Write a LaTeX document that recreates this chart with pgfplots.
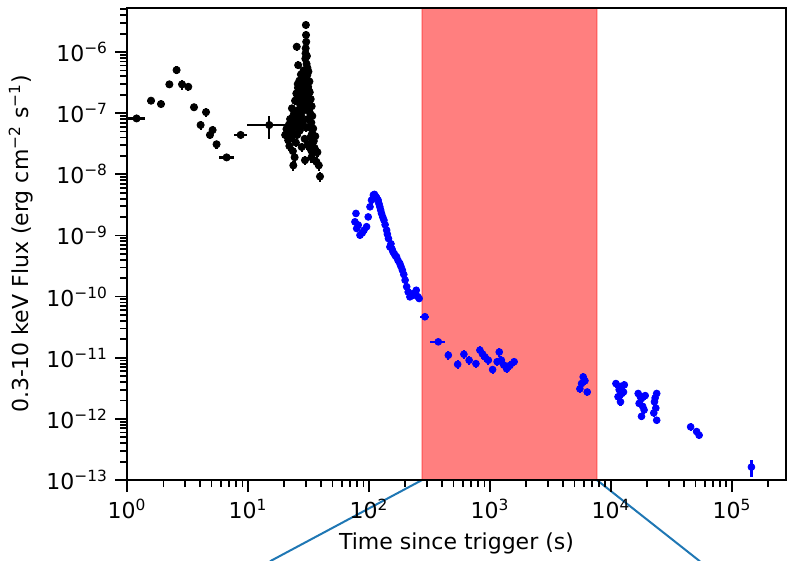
\documentclass[border=0pt]{standalone}
\usepackage{fontspec}
\setmainfont{DejaVu Sans}
\usepackage{pgfplots}
\usepackage{pgfplotstable}
\pgfplotsset{compat=1.18}

\definecolor{mplblue}{HTML}{1F77B4}

% early prompt emission (black): x  y  rel. x err  rel. y err
\pgfplotstableread{
x      y        ex    ey
1.2    8.2e-8   0.18  0.12
1.58   1.6e-7   0.07  0.12
1.91   1.41e-7  0.07  0.15
2.24   2.96e-7  0.06  0.12
2.57   5.07e-7  0.05  0.15
2.85   2.96e-7  0.05  0.18
3.21   2.7e-7   0.05  0.15
3.58   1.25e-7  0.04  0.12
4.06   6.4e-8   0.04  0.18
4.5    1.04e-7  0.04  0.18
4.85   4.4e-8   0.04  0.15
5.1    5.3e-8   0.04  0.15
5.5    3.1e-8   0.04  0.15
6.66   1.89e-8  0.14  0.10
8.7    4.4e-8   0.12  0.10
15.0   6.4e-8   0.34  0.42
20.3   4.4e-8   0.01  0.15
20.8   5.5e-8   0.01  0.15
21.1   4.7e-8   0.01  0.15
21.4   5.0e-8   0.01  0.15
21.5   3.6e-8   0.01  0.15
21.8   6.5e-8   0.01  0.15
22.0   2.9e-8   0.01  0.18
22.1   6.0e-8   0.01  0.15
22.3   8.0e-8   0.01  0.15
22.6   5.0e-8   0.01  0.15
22.9   3.9e-8   0.01  0.15
23.1   1.2e-7   0.01  0.15
23.3   6.8e-8   0.01  0.15
23.4   4.7e-8   0.01  0.15
23.5   2.4e-8   0.01  0.18
23.7   1.4e-8   0.01  0.20
23.9   9.5e-8   0.01  0.15
24.1   5.8e-8   0.01  0.15
24.2   1.05e-7  0.01  0.15
24.3   1.9e-8   0.01  0.18
24.5   1.6e-7   0.01  0.15
24.7   7.2e-8   0.01  0.15
24.9   3.3e-8   0.01  0.15
25.0   9.0e-8   0.01  0.15
25.1   2.1e-7   0.01  0.15
25.3   1.22e-6  0.01  0.15
25.4   1.7e-7   0.01  0.15
25.5   4.4e-8   0.01  0.15
25.7   1.1e-7   0.01  0.15
25.8   3.0e-7   0.01  0.15
25.9   2.6e-7   0.01  0.15
26.0   6.1e-7   0.01  0.15
26.1   1.9e-7   0.01  0.15
26.2   8.5e-8   0.01  0.15
26.3   7.6e-8   0.01  0.15
26.4   1.5e-7   0.01  0.15
26.5   2.4e-7   0.01  0.15
26.6   3.4e-7   0.01  0.15
26.8   5.2e-8   0.01  0.15
26.9   1.05e-7  0.01  0.15
27.0   2.2e-7   0.01  0.15
27.1   6.2e-8   0.01  0.15
27.2   1.3e-7   0.01  0.15
27.3   2.9e-7   0.01  0.15
27.4   4.3e-7   0.01  0.15
27.6   9.0e-8   0.01  0.15
27.7   1.55e-7  0.01  0.15
27.8   2.8e-8   0.01  0.18
28.0   1.8e-7   0.01  0.15
28.1   3.7e-7   0.01  0.15
28.2   3.1e-7   0.01  0.15
28.3   7.5e-8   0.01  0.15
28.4   6.6e-8   0.01  0.15
28.5   2.6e-7   0.01  0.15
28.6   1.1e-7   0.01  0.15
28.8   5.0e-7   0.01  0.15
28.9   1.4e-7   0.01  0.15
29.0   2.4e-7   0.01  0.15
29.2   1.6e-7   0.01  0.15
29.3   4.1e-7   0.01  0.15
29.4   3.8e-8   0.01  0.15
29.6   1.7e-8   0.01  0.18
29.7   2.9e-7   0.01  0.15
29.8   7.8e-7   0.01  0.15
29.9   9.5e-7   0.01  0.15
30.0   1.15e-6  0.01  0.15
30.1   2.77e-6  0.01  0.15
30.2   1.9e-6   0.01  0.15
30.3   1.47e-6  0.01  0.15
30.3   5.8e-8   0.01  0.15
30.4   2.0e-7   0.01  0.15
30.5   6.4e-7   0.01  0.15
30.6   3.6e-7   0.01  0.15
30.7   8.6e-7   0.01  0.15
30.8   1.2e-7   0.01  0.15
30.9   4.2e-7   0.01  0.15
31.0   5.5e-7   0.01  0.15
31.1   3.0e-8   0.01  0.18
31.2   8.0e-8   0.01  0.15
31.3   1.9e-7   0.01  0.15
31.4   2.7e-7   0.01  0.15
31.6   4.8e-7   0.01  0.15
31.7   2.4e-7   0.01  0.15
31.8   1.5e-7   0.01  0.15
32.0   6.0e-8   0.01  0.15
32.2   3.3e-7   0.01  0.15
32.4   2.2e-7   0.01  0.15
32.5   2.9e-8   0.01  0.18
32.6   1.0e-7   0.01  0.15
32.8   4.0e-8   0.01  0.15
33.0   1.7e-7   0.01  0.15
33.2   2.5e-8   0.01  0.18
33.4   7.0e-8   0.01  0.15
33.5   1.9e-8   0.01  0.18
33.6   1.3e-7   0.01  0.15
33.8   4.6e-8   0.01  0.15
34.0   9.0e-8   0.01  0.15
34.2   2.2e-8   0.01  0.18
34.6   5.6e-8   0.01  0.15
35.0   3.5e-8   0.01  0.15
35.5   2.7e-8   0.01  0.18
36.0   4.2e-8   0.01  0.15
36.8   1.6e-8   0.01  0.18
37.5   2.3e-8   0.01  0.18
38.5   1.4e-8   0.01  0.18
39.4   9.2e-9   0.01  0.18
}\blackdata

% XRT (blue)
\pgfplotstableread{
x       y         ex    ey
76.6    1.67e-9   0.01  0.12
78.1    2.29e-9   0.01  0.12
79.2    1.3e-9    0.01  0.12
81.5    1.48e-9   0.01  0.12
84.3    1.01e-9   0.01  0.12
88      1.1e-9    0.01  0.12
91      1.22e-9   0.01  0.12
95.6    1.39e-9   0.01  0.12
98.6    2.01e-9   0.01  0.12
102     2.94e-9   0.01  0.12
105     3.78e-9   0.01  0.12
108.7   4.57e-9   0.01  0.12
111     4.7e-9    0.01  0.12
114     4.3e-9    0.01  0.12
116     4.1e-9    0.01  0.12
119     3.78e-9   0.01  0.12
121     3.3e-9    0.01  0.12
123     2.94e-9   0.01  0.12
125     2.6e-9    0.01  0.12
127     2.29e-9   0.01  0.12
130     2.0e-9    0.01  0.12
133     1.78e-9   0.01  0.12
136     1.5e-9    0.01  0.12
140     1.22e-9   0.01  0.12
142     1.05e-9   0.01  0.12
145     8.9e-10   0.01  0.12
149     6.5e-10   0.01  0.12
152     7.3e-10   0.01  0.12
155     6.0e-10   0.01  0.12
158     5.4e-10   0.01  0.12
162     5.0e-10   0.01  0.12
166     4.6e-10   0.01  0.12
169     4.47e-10  0.01  0.12
174     3.9e-10   0.01  0.12
180     3.48e-10  0.01  0.12
184     3.1e-10   0.01  0.12
189     2.7e-10   0.01  0.12
194     2.3e-10   0.01  0.12
199     1.86e-10  0.01  0.12
205     1.45e-10  0.01  0.12
211     1.19e-10  0.01  0.12
218     9.9e-11   0.01  0.12
225     1.1e-10   0.01  0.12
232     1.05e-10  0.01  0.12
239     1.15e-10  0.01  0.12
246     1.27e-10  0.01  0.12
253     1.0e-10   0.01  0.12
260     9.3e-11   0.01  0.12
290     4.68e-11  0.09  0.12
374     1.82e-11  0.14  0.12
453     1.1e-11   0.04  0.16
541     7.8e-12   0.04  0.16
609     1.14e-11  0.04  0.16
673     9.1e-12   0.04  0.16
766     8.0e-12   0.04  0.16
826     1.33e-11  0.03  0.16
868     1.15e-11  0.03  0.16
909     1.03e-11  0.03  0.16
970     9.1e-12   0.03  0.16
1052    6.4e-12   0.03  0.16
1147    8.6e-12   0.03  0.16
1194    1.24e-11  0.03  0.16
1243    9.1e-12   0.03  0.16
1300    7.6e-12   0.03  0.16
1374    6.6e-12   0.03  0.16
1466    7.5e-12   0.03  0.16
1585    8.6e-12   0.03  0.16
5540    3.1e-12   0.01  0.14
5720    3.78e-12  0.01  0.14
5900    4.86e-12  0.01  0.14
6100    4.2e-12   0.01  0.14
6370    2.75e-12  0.01  0.14
11000   3.78e-12  0.01  0.14
11450   2.3e-12   0.01  0.14
11700   3.0e-12   0.01  0.14
11900   3.4e-12   0.01  0.14
12000   1.9e-12   0.01  0.14
12300   2.6e-12   0.01  0.14
12700   2.75e-12  0.01  0.14
12900   3.6e-12   0.01  0.14
16800   2.6e-12   0.01  0.14
17100   1.79e-12  0.01  0.14
17500   2.3e-12   0.01  0.14
17900   2.15e-12  0.01  0.14
18300   1.6e-12   0.01  0.14
17900   1.1e-12   0.01  0.14
18800   1.4e-12   0.01  0.14
19200   2.4e-12   0.01  0.14
22600   1.25e-12  0.01  0.14
22900   1.9e-12   0.01  0.14
23200   2.2e-12   0.01  0.14
23500   1.5e-12   0.01  0.14
23900   2.6e-12   0.01  0.14
23900   9.5e-13   0.01  0.14
45600   7.4e-13   0.01  0.14
51100   6.2e-13   0.01  0.14
53600   5.4e-13   0.01  0.14
145000  1.63e-13  0.02  0.30
}\bluedata

\begin{document}
\begin{tikzpicture}
\begin{axis}[
    name=ax,
    scale only axis,
    width=329.5pt, height=236pt,
    xmode=log, ymode=log,
    xmin=1, xmax=2.8e5,
    ymin=1e-13, ymax=5.25e-6,
    axis line style={line width=1pt},
    axis on top,
    clip=false,
    tick align=outside,
    xtick pos=bottom, ytick pos=left,
    major tick length=6pt, minor tick length=3.5pt,
    every tick/.style={black, line width=0.9pt},
    xtick={1,10,100,1000,10000,100000},
    xticklabels={10\textsuperscript{0},10\textsuperscript{1},10\textsuperscript{2},10\textsuperscript{3},10\textsuperscript{4},10\textsuperscript{5}},
    minor xtick={2,3,4,5,6,7,8,9,20,30,40,50,60,70,80,90,200,300,400,500,600,700,800,900,2000,3000,4000,5000,6000,7000,8000,9000,20000,30000,40000,50000,60000,70000,80000,90000,200000},
    ytick={1e-13,1e-12,1e-11,1e-10,1e-9,1e-8,1e-7,1e-6},
    yticklabels={10\textsuperscript{−13},10\textsuperscript{−12},10\textsuperscript{−11},10\textsuperscript{−10},10\textsuperscript{−9},10\textsuperscript{−8},10\textsuperscript{−7},10\textsuperscript{−6}},
    minor ytick={2e-13,3e-13,4e-13,5e-13,6e-13,7e-13,8e-13,9e-13,
                 2e-12,3e-12,4e-12,5e-12,6e-12,7e-12,8e-12,9e-12,
                 2e-11,3e-11,4e-11,5e-11,6e-11,7e-11,8e-11,9e-11,
                 2e-10,3e-10,4e-10,5e-10,6e-10,7e-10,8e-10,9e-10,
                 2e-9,3e-9,4e-9,5e-9,6e-9,7e-9,8e-9,9e-9,
                 2e-8,3e-8,4e-8,5e-8,6e-8,7e-8,8e-8,9e-8,
                 2e-7,3e-7,4e-7,5e-7,6e-7,7e-7,8e-7,9e-7,
                 2e-6,3e-6,4e-6,5e-6},
    tick label style={font=\fontsize{11}{13}\selectfont},
    label style={font=\fontsize{11}{13}\selectfont},
    xlabel={Time since trigger (s)},
    ylabel={0.3-10 keV Flux (erg cm\textsuperscript{−2} s\textsuperscript{−1})},
]
    % highlighted interval
    \fill[red, opacity=0.5] (axis cs:275,1e-13) rectangle (axis cs:7650,5.25e-6);
    \draw[red, opacity=0.25, line width=0.8pt] (axis cs:275,1e-13) -- (axis cs:275,5.25e-6)
        (axis cs:7650,1e-13) -- (axis cs:7650,5.25e-6);

    \addplot[only marks, black, mark=*, mark size=1.8pt,
        error bars/.cd, x dir=both, x explicit relative, y dir=both, y explicit relative,
        error bar style={line width=1.1pt}, error mark=none]
        table[x=x, y=y, x error=ex, y error=ey] {\blackdata};

    \addplot[only marks, blue, mark=*, mark size=1.7pt,
        error bars/.cd, x dir=both, x explicit relative, y dir=both, y explicit relative,
        error bar style={line width=1.1pt}, error mark=none]
        table[x=x, y=y, x error=ex, y error=ey] {\bluedata};

    % lines towards the zoomed panel below
    \draw[mplblue, line width=1pt] (axis cs:275,1e-13) -- (axis cs:15.2,4.68e-15);
    \draw[mplblue, line width=1pt] (axis cs:7650,1e-13) -- (axis cs:54400,4.68e-15);
\end{axis}
\pgfresetboundingbox
\path[use as bounding box] ([xshift=-63.5pt,yshift=-40.5pt]ax.south west) rectangle ([xshift=0.5pt,yshift=4pt]ax.north east);
\end{tikzpicture}
\end{document}
